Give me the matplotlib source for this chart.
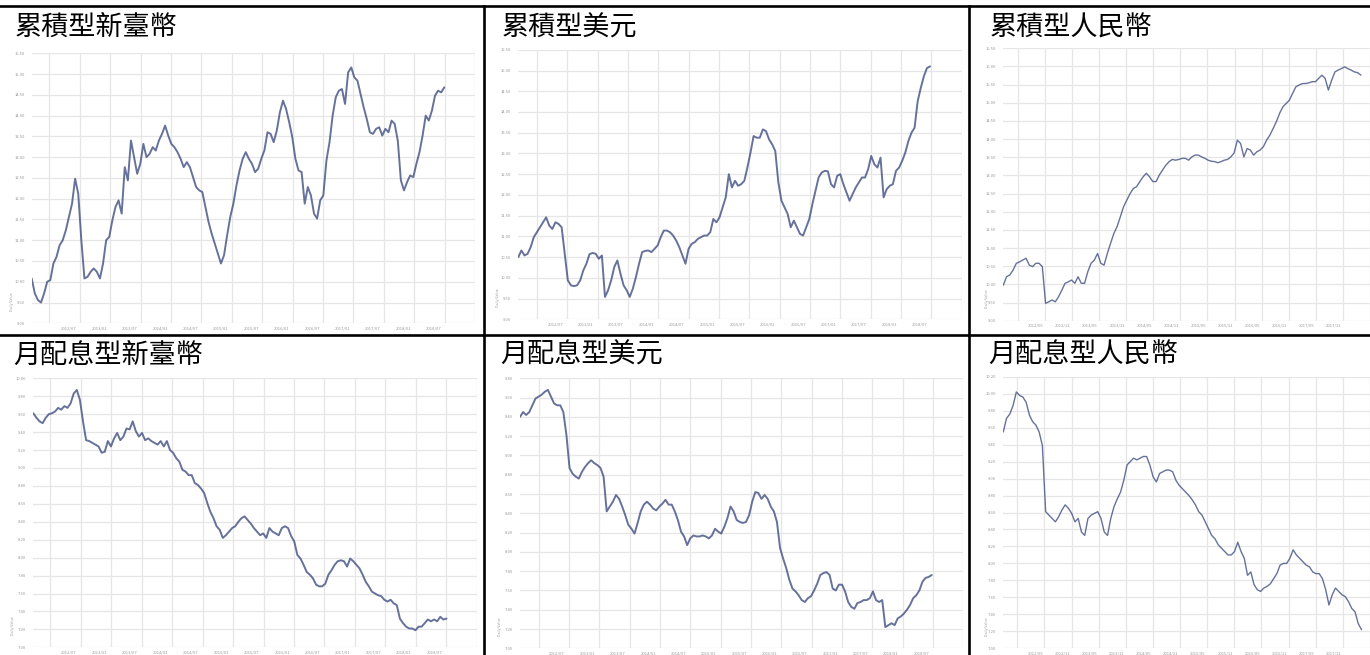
import numpy as np
import matplotlib
matplotlib.use('Agg')
import matplotlib.pyplot as plt
from matplotlib.lines import Line2D

plt.rcParams['font.family'] = ['Noto Sans CJK TC', 'DejaVu Sans']

W, H = 1370, 655

# títulos de cada quadro
titulos = ['累積型新臺幣', '累積型美元', '累積型人民幣',
           '月配息型新臺幣', '月配息型美元', '月配息型人民幣']

# valores (nível do gráfico, amostras igualmente espaçadas)
acc_twd = [10.08, 9.72, 9.56, 9.50, 9.72, 10.00, 10.04, 10.44, 10.60, 10.88,
           11.00, 11.24, 11.56, 11.88, 12.48, 12.12, 11.00, 10.08, 10.12, 10.24,
           10.32, 10.24, 10.08, 10.44, 11.00, 11.08, 11.48, 11.80, 11.96, 11.64,
           12.76, 12.44, 13.40, 13.00, 12.60, 12.84, 13.32, 13.00, 13.08, 13.24,
           13.16, 13.40, 13.56, 13.76, 13.52, 13.32, 13.24, 13.12, 12.96, 12.76,
           12.88, 12.76, 12.52, 12.28, 12.20, 12.16, 11.80, 11.44, 11.16, 10.92,
           10.68, 10.44, 10.64, 11.12, 11.56, 11.88, 12.32, 12.68, 12.96, 13.12,
           12.96, 12.84, 12.64, 12.72, 12.96, 13.16, 13.60, 13.56, 13.36, 13.64,
           14.08, 14.36, 14.16, 13.84, 13.48, 12.96, 12.68, 12.64, 11.88, 12.28,
           12.08, 11.64, 11.52, 11.96, 12.08, 12.92, 13.36, 14.00, 14.44, 14.60,
           14.64, 14.28, 15.04, 15.16, 14.92, 14.84, 14.52, 14.20, 13.92, 13.60,
           13.56, 13.68, 13.72, 13.52, 13.68, 13.60, 13.88, 13.80, 13.40, 12.44,
           12.20, 12.40, 12.56, 12.52, 12.84, 13.12, 13.52, 14.00, 13.88, 14.12,
           14.48, 14.60, 14.56, 14.68]

acc_usd = [10.50, 10.66, 10.54, 10.58, 10.74, 10.98, 11.10, 11.22, 11.34, 11.46,
           11.26, 11.18, 11.34, 11.30, 11.22, 10.58, 9.94, 9.82, 9.80, 9.82,
           9.94, 10.18, 10.34, 10.57, 10.60, 10.58, 10.46, 10.54, 9.54, 9.70,
           9.94, 10.26, 10.42, 10.10, 9.82, 9.70, 9.54, 9.74, 10.02, 10.34,
           10.62, 10.65, 10.66, 10.62, 10.70, 10.78, 10.98, 11.14, 11.14, 11.10,
           11.02, 10.90, 10.74, 10.54, 10.34, 10.70, 10.82, 10.86, 10.94, 10.98,
           11.02, 11.02, 11.10, 11.42, 11.34, 11.46, 11.70, 11.94, 12.50, 12.18,
           12.34, 12.22, 12.26, 12.34, 12.66, 13.02, 13.42, 13.38, 13.38, 13.58,
           13.54, 13.34, 13.22, 13.06, 12.30, 11.86, 11.70, 11.54, 11.22, 11.38,
           11.22, 11.06, 11.02, 11.22, 11.42, 11.78, 12.10, 12.42, 12.54, 12.58,
           12.57, 12.26, 12.18, 12.46, 12.50, 12.26, 12.06, 11.86, 12.02, 12.18,
           12.30, 12.42, 12.42, 12.62, 12.94, 12.74, 12.66, 12.90, 11.94, 12.14,
           12.22, 12.26, 12.58, 12.66, 12.82, 13.02, 13.30, 13.50, 13.62, 14.26,
           14.58, 14.86, 15.06, 15.10]

acc_cny = [9.98, 10.21, 10.26, 10.39, 10.58, 10.62, 10.67, 10.72, 10.53, 10.49,
           10.58, 10.58, 10.49, 9.48, 9.52, 9.57, 9.52, 9.66, 9.84, 10.03,
           10.07, 10.12, 10.03, 10.21, 10.03, 10.03, 10.35, 10.58, 10.67, 10.85,
           10.58, 10.53, 10.85, 11.13, 11.40, 11.59, 11.86, 12.14, 12.32, 12.50,
           12.64, 12.69, 12.83, 12.96, 13.06, 12.96, 12.83, 12.83, 13.01, 13.15,
           13.28, 13.38, 13.44, 13.42, 13.44, 13.47, 13.47, 13.42, 13.51, 13.56,
           13.56, 13.51, 13.47, 13.42, 13.39, 13.38, 13.35, 13.38, 13.42, 13.44,
           13.51, 13.62, 13.97, 13.88, 13.51, 13.74, 13.70, 13.56, 13.65, 13.70,
           13.79, 13.97, 14.11, 14.29, 14.48, 14.71, 14.89, 14.98, 15.07, 15.26,
           15.44, 15.49, 15.53, 15.53, 15.55, 15.58, 15.58, 15.67, 15.76, 15.67,
           15.35, 15.62, 15.85, 15.90, 15.94, 15.99, 15.94, 15.90, 15.85, 15.83, 15.76]

mon_twd = [9.61, 9.56, 9.52, 9.50, 9.56, 9.60, 9.61, 9.63, 9.67, 9.65,
           9.69, 9.67, 9.72, 9.83, 9.87, 9.76, 9.52, 9.31, 9.30, 9.28,
           9.26, 9.24, 9.17, 9.18, 9.30, 9.24, 9.33, 9.39, 9.31, 9.35,
           9.44, 9.43, 9.52, 9.41, 9.35, 9.39, 9.31, 9.33, 9.30, 9.28,
           9.26, 9.30, 9.24, 9.30, 9.20, 9.17, 9.11, 9.07, 8.98, 8.96,
           8.92, 8.92, 8.83, 8.81, 8.77, 8.72, 8.61, 8.51, 8.44, 8.35,
           8.31, 8.22, 8.25, 8.29, 8.33, 8.35, 8.40, 8.44, 8.46, 8.42,
           8.38, 8.33, 8.29, 8.25, 8.27, 8.22, 8.33, 8.29, 8.27, 8.25,
           8.33, 8.35, 8.33, 8.24, 8.18, 8.03, 7.99, 7.92, 7.84, 7.81,
           7.77, 7.70, 7.68, 7.68, 7.71, 7.81, 7.86, 7.92, 7.96, 7.97,
           7.96, 7.90, 7.99, 7.96, 7.92, 7.88, 7.81, 7.73, 7.68, 7.62,
           7.60, 7.58, 7.57, 7.53, 7.51, 7.53, 7.49, 7.47, 7.32, 7.27,
           7.23, 7.21, 7.21, 7.19, 7.23, 7.23, 7.27, 7.31, 7.29, 7.31,
           7.29, 7.34, 7.31, 7.32]

mon_usd = [9.40, 9.45, 9.42, 9.45, 9.52, 9.59, 9.61, 9.63, 9.66, 9.68,
           9.61, 9.54, 9.52, 9.52, 9.45, 9.21, 8.87, 8.81, 8.78, 8.76,
           8.83, 8.88, 8.92, 8.95, 8.92, 8.90, 8.87, 8.78, 8.42, 8.47,
           8.52, 8.59, 8.55, 8.47, 8.38, 8.28, 8.24, 8.19, 8.30, 8.42,
           8.49, 8.52, 8.49, 8.45, 8.43, 8.47, 8.50, 8.54, 8.49, 8.49,
           8.42, 8.33, 8.21, 8.16, 8.07, 8.14, 8.17, 8.16, 8.16, 8.17,
           8.16, 8.14, 8.17, 8.24, 8.21, 8.19, 8.26, 8.35, 8.47, 8.42,
           8.33, 8.31, 8.30, 8.31, 8.38, 8.52, 8.62, 8.61, 8.55, 8.59,
           8.55, 8.47, 8.42, 8.31, 8.04, 7.93, 7.83, 7.71, 7.62, 7.59,
           7.55, 7.50, 7.48, 7.52, 7.54, 7.60, 7.67, 7.76, 7.78, 7.79,
           7.76, 7.62, 7.60, 7.66, 7.66, 7.59, 7.48, 7.43, 7.41, 7.47,
           7.48, 7.50, 7.50, 7.52, 7.59, 7.50, 7.48, 7.50, 7.22, 7.24,
           7.26, 7.24, 7.31, 7.33, 7.36, 7.40, 7.45, 7.52, 7.55, 7.60,
           7.69, 7.73, 7.74, 7.76]

mon_cny = [9.55, 9.71, 9.76, 9.86, 10.02, 9.98, 9.96, 9.90, 9.75, 9.67,
           9.63, 9.55, 9.39, 8.61, 8.57, 8.53, 8.49, 8.55, 8.63, 8.69,
           8.65, 8.59, 8.49, 8.53, 8.37, 8.33, 8.53, 8.57, 8.59, 8.61,
           8.53, 8.37, 8.33, 8.53, 8.67, 8.76, 8.84, 8.98, 9.16, 9.20,
           9.24, 9.22, 9.24, 9.26, 9.26, 9.16, 9.02, 8.96, 9.06, 9.08,
           9.10, 9.10, 9.08, 8.98, 8.92, 8.88, 8.84, 8.80, 8.75, 8.69,
           8.61, 8.57, 8.49, 8.41, 8.33, 8.29, 8.22, 8.18, 8.14, 8.10,
           8.10, 8.14, 8.25, 8.14, 8.06, 7.86, 7.90, 7.75, 7.69, 7.67,
           7.71, 7.73, 7.76, 7.82, 7.88, 7.98, 8.00, 8.00, 8.06, 8.16,
           8.10, 8.06, 8.02, 7.98, 7.96, 7.90, 7.88, 7.88, 7.82, 7.69,
           7.51, 7.63, 7.71, 7.67, 7.63, 7.61, 7.55, 7.47, 7.43, 7.29, 7.22]

# rótulos do eixo x (datas, ilegíveis no original)
datas_a = ['2012/07', '2013/01', '2013/07', '2014/01', '2014/07', '2015/01', '2015/07',
           '2016/01', '2016/07', '2017/01', '2017/07', '2018/01', '2018/07']
datas_b = ['2012/05', '2012/11', '2013/05', '2013/11', '2014/05', '2014/11', '2015/05',
           '2015/11', '2016/05', '2016/11', '2017/05', '2017/11', '2018/05']

fig = plt.figure(figsize=(W / 100, H / 100), dpi=100)
fig.patch.set_facecolor('white')


def painel(esq, topo, base, valores, ylo, yhi, passo, g0, gpasso, desloc, rotulos, lw):
    n = len(valores)
    largura = (n - 1) * 10 / 3
    ax = fig.add_axes([esq / W, 1 - base / H, largura / W, (base - topo) / H])
    x = np.arange(n)
    ax.plot(x, valores, color='#34437a', lw=lw, alpha=0.75, solid_capstyle='round')
    ax.set_xlim(0, n - 1)
    ax.set_ylim(ylo, yhi)
    yt = np.arange(ylo, yhi + passo / 2, passo)
    ax.set_yticks(yt)
    ax.set_yticklabels([f'{v:.2f}' for v in yt])
    grade = np.arange(g0, n + gpasso, gpasso)
    ax.set_xticks(grade, minor=True)
    pos = grade[:len(rotulos)] + desloc
    pos = pos[pos < n - 4]
    ax.set_xticks(pos)
    ax.set_xticklabels(rotulos[:len(pos)])
    ax.grid(True, which='minor', axis='x', color='#e6e6e6', lw=0.9)
    ax.grid(True, which='major', axis='y', color='#e6e6e6', lw=0.9)
    ax.grid(False, which='major', axis='x')
    ax.tick_params(which='both', length=0, labelsize=3, labelcolor='#9a9a9a')
    ax.tick_params(axis='y', pad=5)
    ax.tick_params(axis='x', pad=2)
    for s in ax.spines.values():
        s.set_visible(False)
    ax.text(-0.045, 0.08, 'Daily Value', rotation=90, fontsize=2.6, color='#9a9a9a',
            transform=ax.transAxes, ha='center', va='center')
    ax.set_axisbelow(True)
    return ax


painel(31.7, 53.3, 323.3, acc_twd, 9.0, 15.5, 0.5, 5.7, 9.8, 6.3, datas_a, 1.4)
painel(518.3, 49.8, 319.3, acc_usd, 9.0, 15.5, 0.5, 6.0, 9.8, 6.0, datas_a, 1.4)
painel(1003.3, 48.3, 320.7, acc_cny, 9.0, 16.5, 0.5, 4.5, 8.33, 5.5, datas_b, 1.0)
painel(33.3, 378.3, 647.3, mon_twd, 7.0, 10.0, 0.2, 5.5, 9.8, 6.0, datas_a, 1.4)
painel(520.0, 378.3, 648.3, mon_usd, 7.0, 9.8, 0.2, 6.0, 9.8, 6.0, datas_a, 1.4)
painel(1003.3, 376.7, 648.3, mon_cny, 7.0, 10.2, 0.2, 4.3, 8.33, 5.5, datas_b, 1.0)

# títulos dos quadros
pos_tit = [(15, 27.5), (501.7, 28.5), (990, 28), (13.3, 355.8), (500, 355.5), (988, 355.5)]
for t, (px, py) in zip(titulos, pos_tit):
    fig.text(px / W, 1 - py / H, t, fontsize=19.5, fontweight='light',
             ha='left', va='center', color='black')

# linhas da tabela
lw_b = 1.9
fig.add_artist(Line2D([0, 1], [1 - 6 / H, 1 - 6 / H], transform=fig.transFigure, color='black', lw=lw_b))
fig.add_artist(Line2D([0, 1], [1 - 334.5 / H, 1 - 334.5 / H], transform=fig.transFigure, color='black', lw=lw_b))
for xv in (483.5, 968.5):
    fig.add_artist(Line2D([xv / W, xv / W], [0, 1 - 6 / H], transform=fig.transFigure, color='black', lw=lw_b))

fig.savefig('out.png', dpi=100, facecolor='white')
